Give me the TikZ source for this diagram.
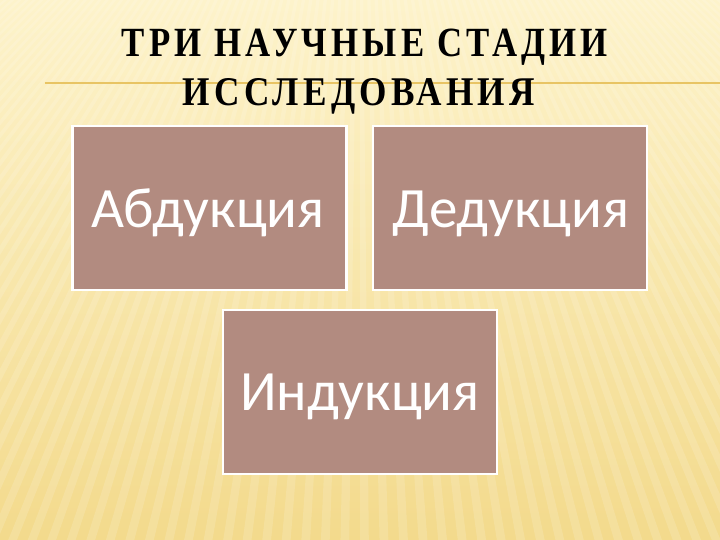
\documentclass[tikz,border=0pt]{standalone}
\usepackage{fontspec}
\setmainfont{Carlito}
\newfontfamily\titlefont[LetterSpace=12,BoldFont={Liberation Serif Bold}]{Liberation Serif}
\definecolor{bgtop}{RGB}{253,243,203}
\definecolor{bgbot}{RGB}{243,218,140}
\definecolor{boxfill}{RGB}{178,139,128}
\definecolor{goldline}{RGB}{232,196,100}
\tikzset{
  stagebox/.style={draw=white, line width=2.5pt, fill=boxfill, minimum width=274pt, minimum height=164pt, inner sep=0pt},
  stagetext/.style={text=white, font=\fontsize{57}{60}\selectfont, anchor=base, inner sep=0pt},
  titleline/.style={anchor=base, inner sep=0pt, text=black}
}
\begin{document}
\begin{tikzpicture}[x=1pt,y=-1pt]
\useasboundingbox (0,0) rectangle (720,540);
\shade[top color=bgtop, bottom color=bgbot] (0,0) rectangle (720,540);
\begin{scope}
\clip (0,0) rectangle (720,540);
\foreach \xx in {-700,-680,...,1420} {
  \fill[white, opacity=0.14] (360,-320) -- (\xx,560) -- (\xx+9,560) -- cycle;
}
\end{scope}
\coordinate (lineL) at (45,83);
\coordinate (lineR) at (720,83);
\draw[goldline, line width=1.6pt] (lineL) -- (lineR);
\node[titleline] (t1) at (365,57) {\resizebox{486pt}{27.5pt}{\titlefont\bfseries ТРИ НАУЧНЫЕ СТАДИИ}};
\node[titleline] (t2) at (359,106) {\resizebox{352pt}{27pt}{\titlefont\bfseries ИССЛЕДОВАНИЯ}};
\node[stagebox] (b1) at (209.5,208) {};
\node[stagebox] (b2) at (510,208) {};
\node[stagebox] (b3) at (360,392) {};
\node[stagetext] (l1) at (208,227) {Абдукция};
\node[stagetext] (l2) at (511,228) {Дедукция};
\node[stagetext] (l3) at (360,410) {Индукция};
\end{tikzpicture}
\end{document}
